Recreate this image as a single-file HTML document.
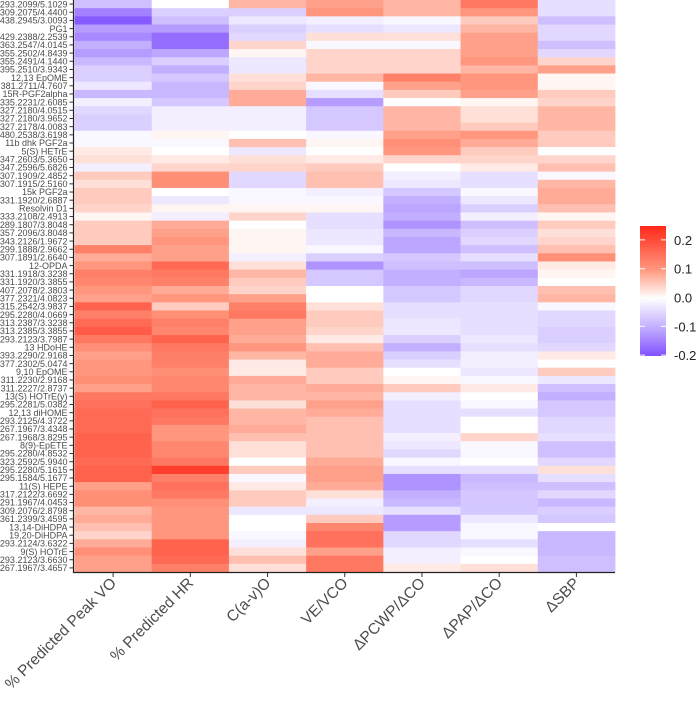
<!DOCTYPE html>
<html><head><meta charset="utf-8">
<style>
body{margin:0;background:#fff;}
svg text{font-family:"Liberation Sans",sans-serif;}
</style></head>
<body>
<svg id="chart" width="700" height="701" xmlns="http://www.w3.org/2000/svg">
<defs>
<linearGradient id="lg" x1="0" y1="1" x2="0" y2="0">
<stop offset="0" stop-color="rgb(128,80,255)"/>
<stop offset="0.222" stop-color="rgb(195,175,255)"/>
<stop offset="0.444" stop-color="#fff"/>
<stop offset="0.667" stop-color="rgb(255,150,125)"/>
<stop offset="1" stop-color="rgb(255,40,25)"/>
</linearGradient>
</defs>
<g id="cells"></g>
<g id="axes"></g>
<g>
<rect x="640" y="226" width="26" height="130" fill="url(#lg)"/>
<g id="legend-ticks"></g>
</g>
</svg>
<script>
const rows = ["293.2099/5.1029","309.2075/4.4400","438.2945/3.0093","PG1","429.2388/2.2539","363.2547/4.0145","355.2502/4.8439","355.2491/4.1440","395.2510/3.9343","12,13 EpOME","381.2711/4.7607","15R-PGF2alpha","335.2231/2.6085","327.2180/4.0515","327.2180/3.9652","327.2178/4.0083","480.2538/3.6198","11b dhk PGF2a","5(S) HETrE","347.2603/5.3650","347.2596/5.6826","307.1909/2.4852","307.1915/2.5160","15k PGF2a","331.1920/2.6887","Resolvin D1","333.2108/2.4913","289.1807/3.8048","357.2096/3.8048","343.2126/1.9672","299.1888/2.9662","307.1891/2.6640","12-OPDA","331.1918/3.3238","331.1920/3.3855","407.2078/2.3803","377.2321/4.0823","315.2542/3.9837","295.2280/4.0669","313.2387/3.3238","313.2385/3.3855","293.2123/3.7987","13 HDoHE","393.2290/2.9168","377.2302/5.0474","9,10 EpOME","311.2230/2.9168","311.2227/2.8737","13(S) HOTrE(y)","295.2281/5.0382","12,13 diHOME","293.2125/4.3722","267.1967/3.4348","267.1968/3.8295","8(9)-EpETE","295.2280/4.8532","323.2592/5.9940","295.2280/5.1615","295.1584/5.1677","11(S) HEPE","317.2122/3.6692","291.1967/4.0453","309.2076/2.8798","361.2399/3.4595","13,14-DiHDPA","19,20-DiHDPA","293.2124/3.6322","9(S) HOTrE","293.2123/3.6630","267.1967/3.4657"];
const columns = ["% Predicted Peak VO","% Predicted HR","C(a-v)O","VE/VCO","ΔPCWP/ΔCO","ΔPAP/ΔCO","ΔSBP"];
const peakVO = [-0.08,-0.15,-0.19,-0.12,-0.14,-0.10,-0.12,-0.09,-0.06,-0.06,-0.03,-0.09,-0.02,-0.05,-0.06,-0.06,-0.01,-0.01,0.02,0.03,-0.02,0.05,0.03,0.05,0.05,0.04,0.01,0.05,0.05,0.05,0.13,0.08,0.10,0.13,0.12,0.10,0.09,0.17,0.13,0.16,0.18,0.14,0.11,0.09,0.10,0.10,0.11,0.09,0.14,0.15,0.16,0.16,0.16,0.17,0.17,0.17,0.16,0.17,0.17,0.09,0.11,0.11,0.07,0.08,0.06,0.04,0.08,0.11,0.09,0.09];
const predHR = [0,-0.06,-0.08,-0.12,-0.17,-0.17,-0.11,-0.06,-0.10,-0.07,-0.09,-0.09,-0.07,-0.02,-0.02,-0.02,0.01,-0.01,0,0.02,0.04,0.11,0.11,0,-0.03,0.01,-0.02,0.08,0.09,0.10,0.09,0.09,0.16,0.14,0.13,0.08,0.10,0.05,0.11,0.13,0.12,0.17,0.14,0.13,0.13,0.11,0.12,0.12,0.14,0.17,0.15,0.14,0.10,0.10,0.12,0.12,0.14,0.22,0.13,0.15,0.14,0.11,0.10,0.10,0.10,0.10,0.17,0.17,0.16,0.13];
const cavO = [0.07,-0.06,-0.03,-0.06,-0.05,0.04,0.01,-0.03,-0.03,0.03,0.04,0.08,0.08,-0.02,-0.02,-0.02,0,0.06,-0.03,0.03,0.04,-0.05,-0.05,-0.01,-0.01,0.01,0.04,0,0.01,0.01,0.01,-0.02,0.03,0.07,0.05,0.04,0.09,0.13,0.14,0.09,0.09,0.08,0.10,0.07,0.02,0.02,0.08,0.07,0.07,0.03,0.07,0.07,0.08,0.06,0.03,0.03,0,0.05,-0.01,0.02,0.05,0.05,-0.03,0,0,-0.01,-0.02,0.03,0.06,0.03];
const veVCO = [0.09,0.10,-0.02,-0.04,0.03,-0.01,0.04,0.04,0.04,0.07,-0.01,-0.04,-0.12,-0.07,-0.07,-0.07,-0.01,0.01,0,0.02,0.05,0.06,0.06,-0.02,-0.01,0.01,-0.04,-0.04,-0.03,-0.03,-0.01,-0.06,-0.13,-0.07,-0.07,0,0,0.03,0.05,0.05,0.04,0.02,0.06,0.08,0.08,0.05,0.05,0.08,0.07,0.09,0.08,0.06,0.06,0.06,0.06,0.06,0.08,0.09,0.09,0.08,0.03,-0.02,-0.03,0.05,0.12,0.15,0.15,0.09,0.14,0.14];
const dPCWP = [0.07,0.07,-0.01,-0.03,0.03,-0.01,0.04,0.04,0.04,0.13,0.09,0.05,0,0.07,0.07,0.07,0.09,0.11,0.10,0.04,0,-0.02,-0.03,-0.07,-0.10,-0.11,-0.10,-0.13,-0.09,-0.11,-0.11,-0.07,-0.08,-0.10,-0.10,-0.07,-0.07,-0.04,-0.04,-0.03,-0.03,-0.06,-0.10,-0.06,-0.04,0,0.01,0.05,-0.02,-0.04,-0.04,-0.04,-0.04,-0.02,-0.03,-0.05,-0.01,-0.04,-0.13,-0.13,-0.10,-0.09,-0.04,-0.12,-0.12,-0.05,-0.05,-0.02,-0.02,0.02];
const dPAP = [0.14,0.10,0.05,0.07,0.09,0.09,0.09,0.10,0.07,0.10,0.10,0.09,0.01,0.03,0.03,0.05,0.10,0.08,0.05,0.04,0.02,-0.04,-0.04,-0.01,-0.03,-0.06,-0.02,-0.08,-0.06,-0.05,-0.08,-0.04,-0.08,-0.11,-0.09,-0.05,-0.05,-0.04,-0.04,-0.04,-0.04,-0.03,-0.04,-0.02,-0.02,-0.03,-0.01,0.02,0,-0.01,-0.04,0,0,0.04,-0.01,-0.01,0,-0.04,-0.09,-0.08,-0.07,-0.07,-0.07,-0.03,-0.01,-0.01,-0.04,-0.01,0,0.03];
const dSBP = [-0.04,-0.04,-0.08,-0.05,-0.05,-0.08,-0.05,0.04,0.09,0.01,0.01,0.05,0.04,0.07,0.07,0.07,0.05,0.05,0,0.04,0.06,-0.01,0.07,0.08,0.08,0.06,0.01,0.05,0.03,0.04,0.06,0.11,0.02,0.01,0,0.06,0.07,-0.01,-0.05,-0.05,-0.06,-0.06,-0.05,0.02,0,0.05,-0.03,-0.08,-0.10,-0.07,-0.07,-0.05,-0.05,-0.04,-0.08,-0.08,-0.05,0.03,-0.04,-0.08,-0.05,-0.09,-0.06,-0.07,0,-0.09,-0.09,-0.09,-0.08,-0.08];
const series = [peakVO, predHR, cavO, veVCO, dPCWP, dPAP, dSBP];
const legendTicks = [0.2, 0.1, 0.0, -0.1, -0.2];

const NS = "http://www.w3.org/2000/svg";
const X0 = 74.5, X1 = 615, Y0 = 0, Y1 = 572;
const colW = (X1 - X0) / columns.length;
const rowH = (Y1 - Y0) / rows.length;
const xPos = i => X0 + i * colW;
const yPos = j => Y0 + j * rowH;
const legY = v => 297.5 - v * 288;

function lerp(a, b, t){ return a.map((x, i) => Math.round(x + (b[i] - x) * t)); }
function color(v){
  const W=[255,255,255];
  if (v >= 0) {
    if (v <= 0.1) return "rgb(" + lerp(W,[255,150,125],v/0.1) + ")";
    return "rgb(" + lerp([255,150,125],[255,40,25],Math.min(1,(v-0.1)/0.15)) + ")";
  }
  const a = -v;
  if (a <= 0.1) return "rgb(" + lerp(W,[195,175,255],a/0.1) + ")";
  return "rgb(" + lerp([195,175,255],[128,80,255],Math.min(1,(a-0.1)/0.1)) + ")";
}
function mk(tag, attrs, parent){ const e=document.createElementNS(NS,tag); for(const k in attrs) e.setAttribute(k,attrs[k]); parent.appendChild(e); return e; }

const cells = document.getElementById('cells');
series.forEach((vals, i) => {
  vals.forEach((v, j) => {
    const r = mk('rect', {x: xPos(i), y: yPos(j), width: colW + 0.4, height: rowH + 0.4, fill: color(v)}, cells);
    
    
  });
});

const axes = document.getElementById('axes');
const yl = mk('line', {x1: X0 - 1, y1: 0, x2: X0 - 1, y2: Y1 + 0.5, stroke: '#222', 'stroke-width': 1.2}, axes);


const xl = mk('line', {x1: X0 - 1.6, y1: Y1 + 0.5, x2: X1, y2: Y1 + 0.5, stroke: '#222', 'stroke-width': 1.2}, axes);



rows.forEach((name, j) => {
  const cy = yPos(j) + rowH / 2;
  mk('line', {x1: X0 - 5, y1: cy, x2: X0 - 1, y2: cy, stroke: '#333', 'stroke-width': 1}, axes);
  const t = mk('text', {x: X0 - 7, y: cy + 3.2, 'text-anchor': 'end', 'font-size': 9, fill: '#4d4d4d'}, axes);
  t.textContent = name;
  
  
});

columns.forEach((name, i) => {
  const cx = xPos(i) + colW / 2;
  mk('line', {x1: cx, y1: Y1 + 1, x2: cx, y2: Y1 + 5, stroke: '#333', 'stroke-width': 1}, axes);
  const t = mk('text', {x: cx + 4, y: Y1 + 12, 'text-anchor': 'end', 'font-size': 15.5, fill: '#4d4d4d', transform: 'rotate(-45 ' + (cx + 4) + ' ' + (Y1 + 12) + ')'}, axes);
  t.textContent = name;
  
  
});

const lt = document.getElementById('legend-ticks');
legendTicks.forEach(v => {
  const y = legY(v);
  mk('line', {x1: 640, y1: y, x2: 645, y2: y, stroke: '#fff', 'stroke-width': 1}, lt);
  mk('line', {x1: 661, y1: y, x2: 666, y2: y, stroke: '#fff', 'stroke-width': 1}, lt);
  const t = mk('text', {x: 674, y: y + 5, 'font-size': 13, fill: '#222'}, lt);
  t.textContent = v.toFixed(1);
  
  
});
</script>
</body></html>
